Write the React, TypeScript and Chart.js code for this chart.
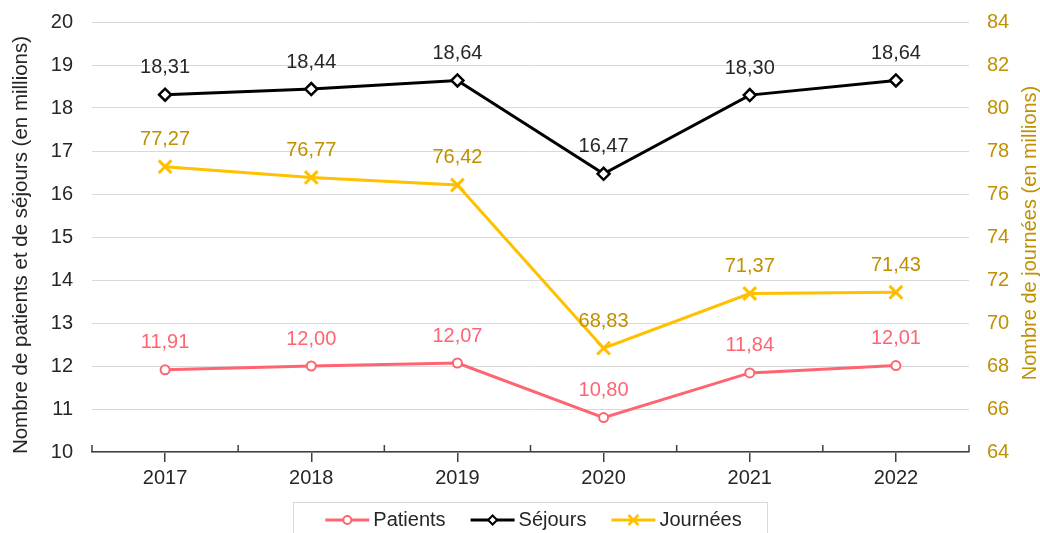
import React, { useEffect, useRef } from "react";
import { Chart, registerables } from "chart.js";

Chart.register(...registerables);

const years = ["2017", "2018", "2019", "2020", "2021", "2022"];
const patients = [11.91, 12.0, 12.07, 10.8, 11.84, 12.01];
const sejours = [18.31, 18.44, 18.64, 16.47, 18.3, 18.64];
const journees = [77.27, 76.77, 76.42, 68.83, 71.37, 71.43];

const leftTitle = "Nombre de patients et de séjours (en millions)";
const rightTitle = "Nombre de journées (en millions)";

const FONT = '"Liberation Sans", Arial, sans-serif';
const PINK = "#ff6472";
const BLACK = "#000000";
const GOLD_LINE = "#ffc000";
const GOLD_TEXT = "#bf9000";
const TEXT = "#262626";

const labelColors = [PINK, TEXT, GOLD_TEXT];
const legendItems = [
  { label: "Patients", color: PINK, marker: "circle" },
  { label: "Séjours", color: BLACK, marker: "diamond" },
  { label: "Journées", color: GOLD_LINE, marker: "cross" },
];

const fmt = (v: number) => v.toFixed(2).replace(".", ",");

function drawMarker(ctx: CanvasRenderingContext2D, kind: string, x: number, y: number, color: string) {
  ctx.save();
  ctx.strokeStyle = color;
  ctx.fillStyle = "#ffffff";
  ctx.lineWidth = 2;
  ctx.beginPath();
  if (kind === "circle") {
    ctx.arc(x, y, 4, 0, Math.PI * 2);
    ctx.fill();
    ctx.stroke();
  } else if (kind === "diamond") {
    const r = 4.5;
    ctx.moveTo(x, y - r);
    ctx.lineTo(x + r, y);
    ctx.lineTo(x, y + r);
    ctx.lineTo(x - r, y);
    ctx.closePath();
    ctx.fill();
    ctx.stroke();
  } else {
    const r = 5;
    ctx.lineWidth = 2.5;
    ctx.moveTo(x - r, y - r);
    ctx.lineTo(x + r, y + r);
    ctx.moveTo(x + r, y - r);
    ctx.lineTo(x - r, y + r);
    ctx.stroke();
  }
  ctx.restore();
}

const customPlugin = {
  id: "customDecor",
  afterDatasetsDraw(chart: any) {
    const ctx: CanvasRenderingContext2D = chart.ctx;
    chart.data.datasets.forEach((ds: any, i: number) => {
      const meta = chart.getDatasetMeta(i);
      ctx.save();
      ctx.font = `20px ${FONT}`;
      ctx.fillStyle = labelColors[i];
      ctx.textAlign = "center";
      ctx.textBaseline = "middle";
      meta.data.forEach((pt: any, j: number) => {
        ctx.fillText(fmt(ds.data[j]), pt.x, pt.y - 27);
      });
      ctx.restore();
    });
  },
  afterDraw(chart: any) {
    const ctx: CanvasRenderingContext2D = chart.ctx;
    const area = chart.chartArea;
    const xs = chart.scales.x;
    // upward part of the crossing tick marks on the x axis
    ctx.save();
    ctx.strokeStyle = "#404040";
    ctx.lineWidth = 1.5;
    const n = years.length;
    const bounds: number[] = [area.left];
    for (let i = 0; i < n - 1; i++) {
      bounds.push((xs.getPixelForValue(i) + xs.getPixelForValue(i + 1)) / 2);
    }
    bounds.push(area.right);
    ctx.beginPath();
    bounds.forEach((bx) => {
      ctx.moveTo(bx, area.bottom - 7);
      ctx.lineTo(bx, area.bottom);
    });
    ctx.stroke();
    ctx.restore();

    // axis titles, both reading bottom to top
    ctx.save();
    ctx.font = `20.5px ${FONT}`;
    ctx.fillStyle = TEXT;
    ctx.textAlign = "center";
    ctx.textBaseline = "middle";
    ctx.translate(21, (area.top + area.bottom) / 2 + 8);
    ctx.rotate(-Math.PI / 2);
    ctx.fillText(leftTitle, 0, 0);
    ctx.restore();

    ctx.save();
    ctx.font = `20px ${FONT}`;
    ctx.fillStyle = GOLD_TEXT;
    ctx.textAlign = "center";
    ctx.textBaseline = "middle";
    ctx.translate(1030, (area.top + area.bottom) / 2 - 4);
    ctx.rotate(-Math.PI / 2);
    ctx.fillText(rightTitle, 0, 0);
    ctx.restore();

    // legend
    ctx.save();
    ctx.font = `20px ${FONT}`;
    const lineLen = 44;
    const gapText = 4;
    const gapItem = 25;
    const widths = legendItems.map((it) => ctx.measureText(it.label).width);
    let total = 0;
    widths.forEach((w) => (total += lineLen + gapText + w));
    total += gapItem * (legendItems.length - 1);
    const boxLeft = 293.5;
    const boxRight = 767.5;
    const boxTop = 502.5;
    ctx.strokeStyle = "#d9d9d9";
    ctx.lineWidth = 1;
    ctx.strokeRect(boxLeft, boxTop, boxRight - boxLeft, 60);
    let x = (boxLeft + boxRight) / 2 + 3 - total / 2;
    const cy = 520;
    legendItems.forEach((it, i) => {
      ctx.strokeStyle = it.color;
      ctx.lineWidth = 3;
      ctx.beginPath();
      ctx.moveTo(x, cy);
      ctx.lineTo(x + lineLen, cy);
      ctx.stroke();
      drawMarker(ctx, it.marker, x + lineLen / 2, cy, it.color);
      ctx.fillStyle = TEXT;
      ctx.textAlign = "left";
      ctx.textBaseline = "middle";
      ctx.fillText(it.label, x + lineLen + gapText, cy);
      x += lineLen + gapText + widths[i] + gapItem;
    });
    ctx.restore();
  },
};

export default function App() {
  const ref = useRef<HTMLCanvasElement | null>(null);

  useEffect(() => {
    document.body.style.margin = "0";
    const canvas = ref.current;
    if (!canvas) return;
    const chart = new Chart(canvas, {
      type: "line",
      data: {
        labels: years,
        datasets: [
          {
            label: "Patients",
            data: patients,
            borderColor: PINK,
            backgroundColor: "#ffffff",
            borderWidth: 3,
            pointStyle: "circle",
            pointRadius: 4.5,
            pointBorderWidth: 2,
            pointBackgroundColor: "#ffffff",
            pointBorderColor: PINK,
            yAxisID: "y",
            tension: 0,
          },
          {
            label: "Séjours",
            data: sejours,
            borderColor: BLACK,
            backgroundColor: "#ffffff",
            borderWidth: 3,
            pointStyle: "rectRot",
            pointRadius: 6,
            pointBorderWidth: 2.5,
            pointBackgroundColor: "#ffffff",
            pointBorderColor: BLACK,
            yAxisID: "y",
            tension: 0,
          },
          {
            label: "Journées",
            data: journees,
            borderColor: GOLD_LINE,
            backgroundColor: GOLD_LINE,
            borderWidth: 3,
            pointStyle: "crossRot",
            pointRadius: 9,
            pointBorderWidth: 3,
            pointBorderColor: GOLD_LINE,
            yAxisID: "y1",
            tension: 0,
          },
        ],
      },
      options: {
        responsive: false,
        animation: false,
        layout: { autoPadding: false, padding: { top: 22, left: 0, right: 0, bottom: 0 } },
        plugins: {
          legend: { display: false },
          tooltip: { enabled: false },
        },
        scales: {
          x: {
            type: "category",
            offset: true,
            grid: {
              display: true,
              drawOnChartArea: false,
              drawTicks: true,
              tickLength: 10,
              color: "#404040",
              lineWidth: 1.5,
            },
            border: { display: true, color: "#404040", width: 1.5 },
            ticks: { color: TEXT, font: { family: FONT, size: 20 }, padding: 4 },
            afterFit: (s: any) => {
              s.height = 81;
            },
          },
          y: {
            type: "linear",
            position: "left",
            min: 10,
            max: 20,
            ticks: { stepSize: 1, color: TEXT, font: { family: FONT, size: 20 }, padding: 19 },
            grid: { color: "#d9d9d9", lineWidth: 1, drawTicks: false },
            border: { display: false },
            title: { display: false },
            afterFit: (s: any) => {
              s.width = 92;
              s.paddingTop = 0;
              s.paddingBottom = 0;
            },
          },
          y1: {
            type: "linear",
            position: "right",
            min: 64,
            max: 84,
            ticks: { stepSize: 2, color: GOLD_TEXT, font: { family: FONT, size: 20 }, padding: 18 },
            grid: { drawOnChartArea: false, drawTicks: false },
            border: { display: false },
            title: { display: false },
            afterFit: (s: any) => {
              s.width = 71;
              s.paddingTop = 0;
              s.paddingBottom = 0;
            },
          },
        },
      },
      plugins: [customPlugin],
    });
    return () => chart.destroy();
  }, []);

  return (
    <div style={{ position: "absolute", left: 0, top: 0, width: 1040, height: 533 }}>
      <canvas ref={ref} width={1040} height={533} style={{ display: "block" }} />
    </div>
  );
}
